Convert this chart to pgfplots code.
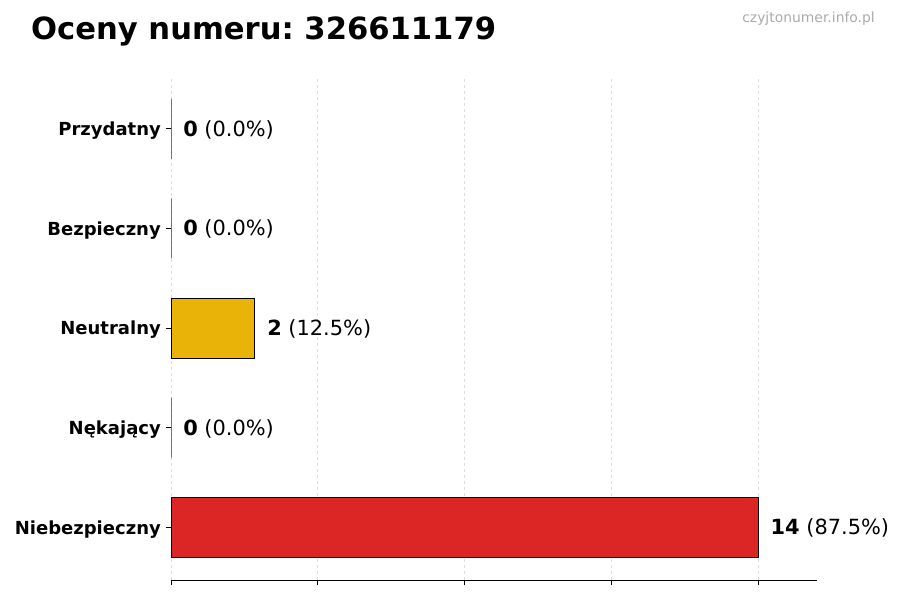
\documentclass[border=0pt]{standalone}
\usepackage{fontspec}
\setmainfont{DejaVu Sans}
\usepackage{pgfplots}
\pgfplotsset{compat=1.18}
\definecolor{barred}{HTML}{DC2626}
\definecolor{baryellow}{HTML}{EAB308}
\definecolor{gridgray}{HTML}{DDDDDD}
\definecolor{markgray}{HTML}{AAAAAA}
\frenchspacing

\begin{document}
\begin{tikzpicture}[x=1pt,y=1pt]
\begin{axis}[
  at={(0,0)}, anchor=south west,
  scale only axis, width=646pt, height=504pt,
  xbar, bar shift=0pt, bar width=60pt,
  xmin=0, xmax=15.4, ymin=-0.53, ymax=4.53,
  xtick={0,3.5,7,10.5,14}, xticklabels={},
  ytick={0,1,2,3,4},
  yticklabels={Niebezpieczny,Nękający,Neutralny,Bezpieczny,Przydatny},
  yticklabel style={font=\fontsize{18}{21}\selectfont\bfseries, inner sep=0pt, xshift=-5pt, yshift=-2pt},
  axis x line*=bottom, axis y line*=left,
  y axis line style={draw=none},
  x axis line style={line width=1pt},
  tick align=outside, major tick length=5pt,
  tick style={black, line width=0.8pt},
  xmajorgrids, grid style={gridgray, dashed, line width=0.8pt},
  nodes near coords, point meta=explicit symbolic,
  nodes near coords style={anchor=west, inner sep=0pt, xshift=12pt, yshift=-1pt,
    font=\fontsize{20.9}{25}\selectfont, text=black},
  clip=false,
]
\addplot[fill=barred, draw=black, line width=0.8pt]
  coordinates {(14,0) [\textbf{14} (87.5\%)]};
\addplot[fill=baryellow, draw=black, line width=0.8pt]
  coordinates {(2,2) [\textbf{2} (12.5\%)]};
\addplot[fill=none, draw=black!80, line width=0.6pt]
  coordinates {(0,1) [\textbf{0} (0.0\%)] (0,3) [\textbf{0} (0.0\%)] (0,4) [\textbf{0} (0.0\%)]};
\end{axis}
\node[anchor=base west, inner sep=0pt, font=\fontsize{30.6}{36}\selectfont\bfseries] at (-140,540) {Oceny numeru: 326611179};
\node[anchor=base east, inner sep=0pt, font=\fontsize{13.9}{16}\selectfont, text=markgray] at (704,557) {czyjtonumer.info.pl};
\path[use as bounding box] (-171,-20) rectangle (729,580);
\end{tikzpicture}
\end{document}
